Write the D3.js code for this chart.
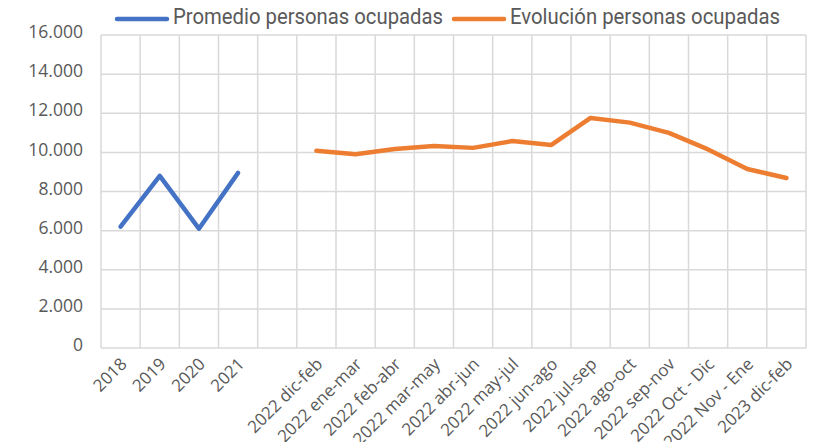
<!DOCTYPE html>
<html>
<head>
<meta charset="utf-8">
<script src="https://cdn.jsdelivr.net/npm/d3@7"></script>
<style>
  body { margin: 0; background: #fff; }
  svg text { fill: #595959; }
</style>
</head>
<body>
<svg id="chart" width="813" height="442"></svg>
<script>
// categorias del eje x (la quinta queda vacia, separa las dos series)
const categorias = ["2018", "2019", "2020", "2021", "",
  "2022 dic-feb", "2022 ene-mar", "2022 feb-abr", "2022 mar-may", "2022 abr-jun",
  "2022 may-jul", "2022 jun-ago", "2022 jul-sep", "2022 ago-oct", "2022 sep-nov",
  "2022 Oct - Dic", "2022 Nov - Ene", "2023 dic-feb"];

const promedio = [6200, 8800, 6100, 8950];
const evolucion = [10080, 9900, 10170, 10330, 10230, 10580, 10380, 11760, 11520, 11000, 10150, 9150, 8690];

const yTicks = [0, 2000, 4000, 6000, 8000, 10000, 12000, 14000, 16000];
const fmt = v => d3.format(",")(v).replace(/,/g, ".");

const svg = d3.select("#chart");
const m = { left: 101, right: 806, top: 35, bottom: 348 };

const x = d3.scaleBand().domain(d3.range(categorias.length)).range([m.left, m.right]);
const y = d3.scaleLinear().domain([0, 16000]).range([m.bottom, m.top]);

// rejilla
const grid = svg.append("g").attr("stroke", "#d9d9d9").attr("stroke-width", 1.5);
yTicks.forEach(t => {
  grid.append("line").attr("x1", m.left).attr("x2", m.right).attr("y1", y(t)).attr("y2", y(t));
});
d3.range(categorias.length + 1).forEach(i => {
  const xx = i < categorias.length ? x(i) : m.right;
  grid.append("line").attr("x1", xx).attr("x2", xx).attr("y1", m.top).attr("y2", m.bottom);
});

// eje y
svg.append("g").selectAll("text").data(yTicks).join("text")
  .attr("x", 83).attr("y", d => y(d) - 3).attr("dy", "0.35em")
  .attr("text-anchor", "end")
  .style("font", "17.5px 'Open Sans', sans-serif")
  .text(d => fmt(d));

// eje x
svg.append("g").selectAll("text").data(categorias).join("text")
  .attr("transform", (d, i) => `translate(${x(i) + x.bandwidth() / 2 + 3},${m.bottom + 13}) rotate(-45)`)
  .attr("text-anchor", "end").attr("dy", "0.35em")
  .style("font", "17px 'Open Sans', sans-serif")
  .text(d => d);

const line = d3.line().x(d => x(d.i) + x.bandwidth() / 2).y(d => y(d.v));

svg.append("path")
  .datum(promedio.map((v, i) => ({ i, v })))
  .attr("d", line).attr("fill", "none")
  .attr("stroke", "#4472C4").attr("stroke-width", 4.5)
  .attr("stroke-linecap", "round").attr("stroke-linejoin", "round");

svg.append("path")
  .datum(evolucion.map((v, i) => ({ i: i + 5, v })))
  .attr("d", line).attr("fill", "none")
  .attr("stroke", "#ED7D31").attr("stroke-width", 4.5)
  .attr("stroke-linecap", "round").attr("stroke-linejoin", "round");

// leyenda
const leyenda = [
  { nombre: "Promedio personas ocupadas", color: "#4472C4", x: 115, w: 270 },
  { nombre: "Evolución personas ocupadas", color: "#ED7D31", x: 452, w: 270 }
];
leyenda.forEach(l => {
  svg.append("line").attr("x1", l.x + 2).attr("x2", l.x + 52).attr("y1", 19).attr("y2", 19)
    .attr("stroke", l.color).attr("stroke-width", 4.5).attr("stroke-linecap", "round");
  svg.append("text").attr("x", l.x + 58).attr("y", 24)
    .style("font", "22px Roboto, sans-serif")
    .attr("textLength", l.w).attr("lengthAdjust", "spacingAndGlyphs")
    .text(l.nombre);
});
</script>
</body>
</html>
